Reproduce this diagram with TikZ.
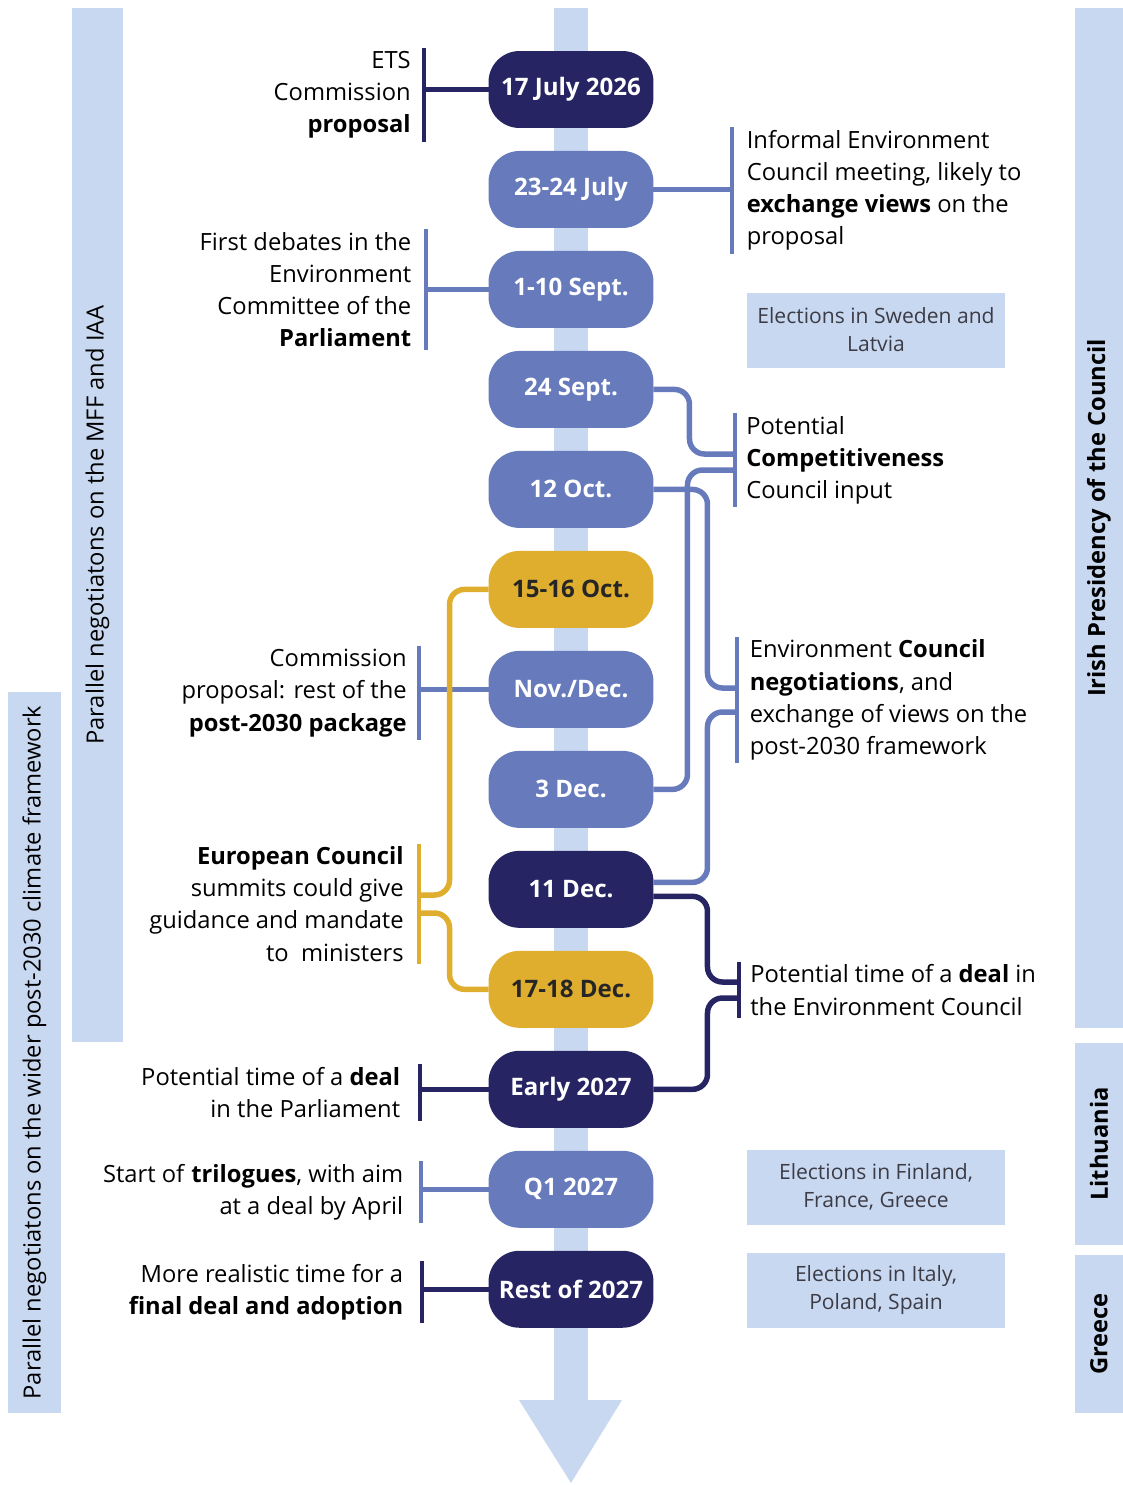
\documentclass[tikz,border=0pt]{standalone}
\usepackage{fontspec}
\setmainfont{Open Sans}
\usepackage{xcolor}
\usepackage{tikz}
\usetikzlibrary{positioning}

\definecolor{navy}{HTML}{262462}
\definecolor{midblue}{HTML}{677ABB}
\definecolor{gold}{HTML}{E0AE2E}
\definecolor{pale}{HTML}{C9D8F1}
\definecolor{boxtext}{HTML}{3C3C46}

\begin{document}
\begin{tikzpicture}[x=0.02cm, y=-0.02cm, node distance=0.46cm,
  pill/.style={rounded corners=0.62cm, minimum width=3.3cm, minimum height=1.54cm, inner sep=0pt, outer sep=0pt, text=white, font=\fontsize{13.7}{16}\selectfont\bfseries},
  dark/.style={pill, fill=navy},
  mid/.style={pill, fill=midblue},
  summit/.style={pill, fill=gold, text=black!85},
  note/.style={font=\fontsize{13.5}{18.3}\selectfont, inner ysep=1.5pt, inner xsep=0.28cm},
  lnote/.style={note, align=right, anchor=east},
  rnote/.style={note, align=left, anchor=west},
  link/.style={line width=0.11cm, rounded corners=0.3cm},
  brk/.style={line width=0.08cm},
  bar/.style={fill=pale, rotate=90, inner sep=0pt, font=\fontsize{13.5}{16}\selectfont},
  poll/.style={fill=pale, minimum width=5.16cm, minimum height=1.5cm, align=center, text=boxtext, font=\fontsize{12}{15.9}\selectfont}]
\useasboundingbox (0,0) rectangle (1123,1485);

% timeline spine
\fill[pale] (554,8) rectangle (588,1400);
\fill[pale] (519,1400) -- (622,1400) -- (571,1483) -- cycle;

% side bands
\node[bar, minimum width=20.68cm, minimum height=1.02cm] (mff) at (97.5,525) {Parallel negotiatons on the MFF and IAA};
\node[bar, minimum width=14.42cm, minimum height=1.06cm] (wider) at (34.5,1052.5) {Parallel negotiatons on the wider post-2030 climate framework};
\node[bar, minimum width=20.4cm, minimum height=0.96cm, font=\fontsize{13.5}{16}\selectfont\bfseries] (irish) at (1099,518) {Irish Presidency of the Council};
\node[bar, minimum width=4.04cm, minimum height=0.96cm, font=\fontsize{13.5}{16}\selectfont\bfseries] (lith) at (1099,1144) {Lithuania};
\node[bar, minimum width=3.16cm, minimum height=0.96cm, font=\fontsize{13.5}{16}\selectfont\bfseries] (greece) at (1099,1334) {Greece};

% dates
\node[dark] (p17) at (571,89.5) {17 July 2026};
\node[mid] (j23) [below=of p17] {23-24 July};
\node[mid] (s1) [below=of j23] {1-10 Sept.};
\node[mid] (s24) [below=of s1] {24 Sept.};
\node[mid] (o12) [below=of s24] {12 Oct.};
\node[summit] (o15) [below=of o12] {15-16 Oct.};
\node[mid] (nd) [below=of o15] {Nov./Dec.};
\node[mid] (d3) [below=of nd] {3 Dec.};
\node[dark] (d11) [below=of d3] {11 Dec.};
\node[summit] (d17) [below=of d11] {17-18 Dec.};
\node[dark] (e27) [below=of d17] {Early 2027};
\node[mid] (q1) [below=of e27] {Q1 2027};
\node[dark] (r27) [below=of q1] {Rest of 2027};

% notes
\node[lnote, inner xsep=0.26cm] (ets) at (424,95) {ETS\\Commission\\\textbf{proposal}};
\node[rnote] (inf) [right=1.58cm of j23, yshift=-0.02cm] {Informal Environment\\Council meeting, likely to\\\textbf{exchange views} on the\\proposal};
\node[lnote] (first) [left=1.26cm of s1] {First debates in the\\Environment\\Committee of the\\\textbf{Parliament}};
\node[rnote, inner xsep=0.22cm] (comp) at (735,460) {Potential\\\textbf{Competitiveness}\\Council input};
\node[lnote, inner xsep=0.24cm] (comm) at (419,693) {Commission\\proposal: rest of the\\\textbf{post-2030 package}};
\node[rnote, inner xsep=0.25cm] (env) at (737,700) {Environment \textbf{Council}\\\textbf{negotiations}, and\\exchange of views on the\\post-2030 framework};
\node[lnote, inner xsep=0.3cm] (euro) at (419,904) {\textbf{European Council}\\summits could give\\guidance and mandate\\to\ \ ministers};
\node[rnote, inner xsep=0.22cm] (deal) at (739,990) {Potential time of a \textbf{deal} in\\the Environment Council};
\node[lnote, inner xsep=0.38cm] (parl) [left=1.38cm of e27, yshift=-0.06cm] {Potential time of a \textbf{deal}\\in the Parliament};
\node[lnote, inner xsep=0.34cm] (tri) [left=1.36cm of q1, yshift=-0.06cm] {Start of \textbf{trilogues}, with aim\\at a deal by April};
\node[lnote, inner xsep=0.36cm] (final) [left=1.34cm of r27, yshift=-0.06cm] {More realistic time for a\\\textbf{final deal and adoption}};

% elections
\node[poll] (swe) at (876,330) {Elections in Sweden and\\Latvia};
\node[poll] (fin) at (876,1187) {Elections in Finland,\\France, Greece};
\node[poll] (ita) at (876,1290) {Elections in Italy,\\Poland, Spain};

% brackets
\draw[brk, navy] (ets.north east) -- (ets.south east);
\draw[brk, midblue] (inf.north west) -- (inf.south west);
\draw[brk, midblue] (first.north east) -- (first.south east);
\draw[brk, midblue] (comp.north west) -- (comp.south west);
\draw[brk, midblue] (comm.north east) -- (comm.south east);
\draw[brk, midblue] (env.north west) -- (env.south west);
\draw[brk, gold] (euro.north east) -- (euro.south east);
\draw[brk, navy] (deal.north west) -- (deal.south west);
\draw[brk, navy] (parl.north east) -- (parl.south east);
\draw[brk, midblue] (tri.north east) -- (tri.south east);
\draw[brk, navy] (final.north east) -- (final.south east);

% links
\draw[link, navy] (p17.west) -- (p17.west -| ets.east);
\draw[link, midblue] (j23.east) -- (j23.east -| inf.west);
\draw[link, midblue] (s1.west) -- (s1.west -| first.east);
\draw[link, midblue] (nd.west) -- (nd.west -| comm.east);
\draw[link, navy] (e27.west) -- (e27.west -| parl.east);
\draw[link, midblue] (q1.west) -- (q1.west -| tri.east);
\draw[link, navy] (r27.west) -- (r27.west -| final.east);

\draw[link, midblue] (s24.east) -- ++(36,0) |- ([yshift=0.12cm]comp.west);
\draw[link, midblue] (d3.east) -- ++(34,0) |- ([yshift=-0.2cm]comp.west);
\draw[link, midblue] (o12.east) -- ++(54,0) |- ([yshift=0.24cm]env.west);
\draw[link, midblue] ([yshift=0.14cm]d11.east) -- ++(54,0) |- ([yshift=-0.24cm]env.west);
\draw[link, navy] ([yshift=-0.14cm]d11.east) -- ++(54,0) |- ([yshift=0.16cm]deal.west);
\draw[link, navy] (e27.east) -- ++(54,0) |- ([yshift=-0.16cm]deal.west);
\draw[link, gold] (o15.west) -- ++(-39,0) |- ([yshift=0.18cm]euro.east);
\draw[link, gold] (d17.west) -- ++(-39,0) |- ([yshift=-0.18cm]euro.east);
\end{tikzpicture}
\end{document}
